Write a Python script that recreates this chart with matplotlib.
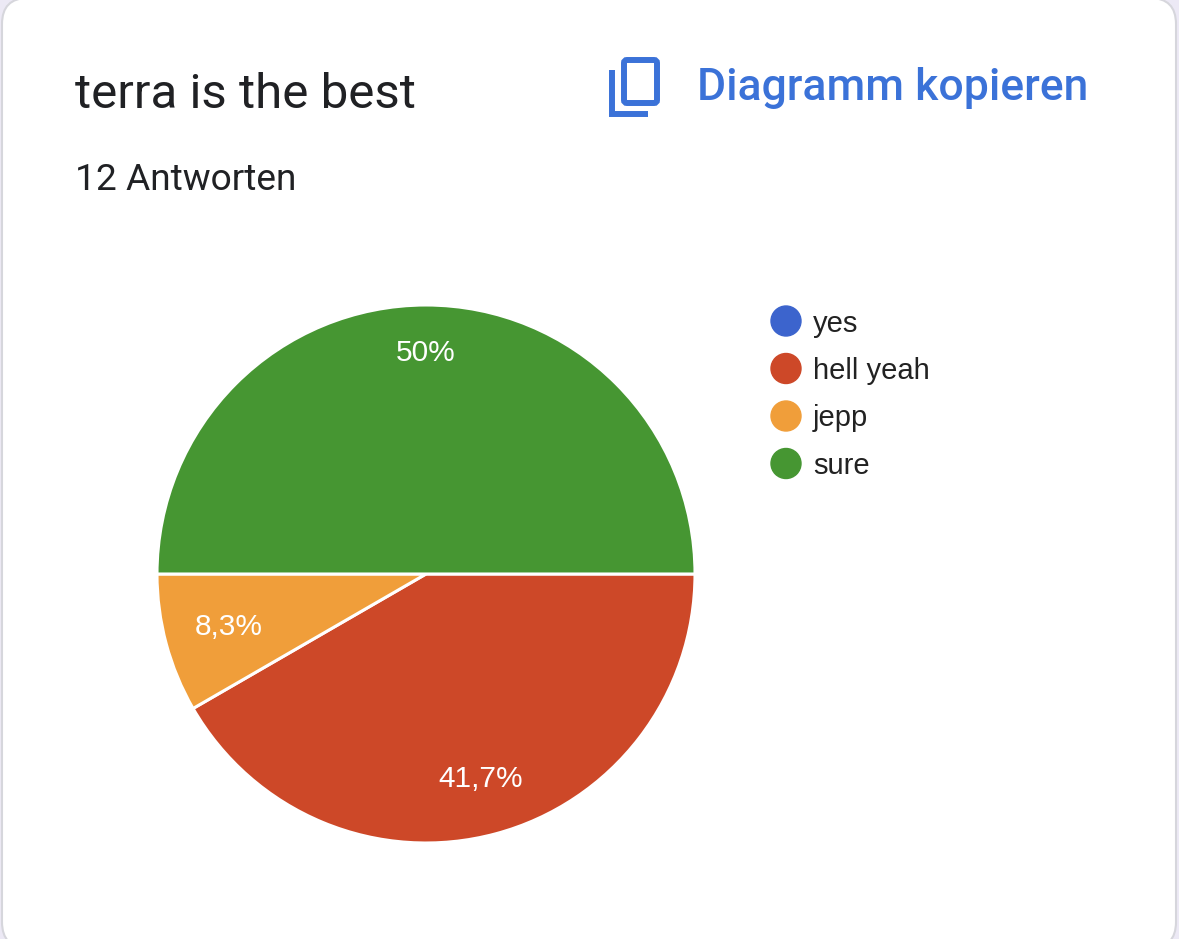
import numpy as np
import matplotlib.pyplot as plt
from matplotlib.patches import FancyBboxPatch, Circle

W, H = 1179, 939

# Daten aus dem Google-Formular
title = "terra is the best"
subtitle = "12 Antworten"
copy_label = "Diagramm kopieren"
labels = ["yes", "hell yeah", "jepp", "sure"]
counts = [0, 5, 1, 6]
colors = ["#3c64cd", "#cd4828", "#f09e3a", "#469632"]
blue = "#3b72d8"


def pct(p):
    # deutsches Format: Komma, ohne ",0"
    if p < 0.05:
        return ""
    s = f"{p:.1f}".replace(".", ",")
    if s.endswith(",0"):
        s = s[:-2]
    return s + "%"


fig = plt.figure(figsize=(W / 100, H / 100), dpi=100)
fig.patch.set_facecolor("#ece9f5")

# Hintergrund-Achse in Pixelkoordinaten
bg = fig.add_axes([0, 0, 1, 1])
bg.set_xlim(0, W)
bg.set_ylim(H, 0)
bg.axis("off")
bg.add_patch(FancyBboxPatch((2, -2), 1174, 950,
                            boxstyle="round,pad=0,rounding_size=26",
                            fc="white", ec="#d6d6dc", lw=1.5))

bg.text(75, 108, title, fontsize=35.5, family="Roboto", color="#202124", va="baseline")
bg.text(75, 190, subtitle, fontsize=26.7, family="Roboto", color="#202124", va="baseline")
bg.text(697, 100, copy_label, fontsize=32, family="Roboto", fontweight="medium",
        color=blue, va="baseline")

# Kopieren-Icon
bg.add_patch(FancyBboxPatch((624, 60), 33, 43, boxstyle="round,pad=0,rounding_size=3",
                            fc="none", ec=blue, lw=4.3))
bg.plot([612, 612, 648], [70, 114, 114], color=blue, lw=4.3,
        solid_capstyle="butt", solid_joinstyle="miter")

# Legende
for i, (lab, col) in enumerate(zip(labels, colors)):
    y = 321 + 47.5 * i
    bg.add_patch(Circle((786, y), 15, color=col))
    bg.text(813, y + 10.5, lab, fontsize=21, family="Liberation Sans",
            color="#222222", va="baseline")

# Kreisdiagramm
cx, cy, r = 426, 574, 269
ax = fig.add_axes([(cx - r) / W, (H - cy - r) / H, 2 * r / W, 2 * r / H])
wedges, texts, autotexts = ax.pie(
    counts, colors=colors, startangle=0, counterclock=False,
    autopct=pct, pctdistance=0.79,
    wedgeprops=dict(edgecolor="white", linewidth=2.2),
    textprops=dict(color="white", fontsize=21.5, family="Liberation Sans"))
for w in wedges:
    w.set_clip_on(False)

# Beschriftung je nach Segmentgröße etwas verschieben (wie bei Google)
label_dist = [0.79, 0.79, 0.76, 0.82]
for w, t, d in zip(wedges, autotexts, label_dist):
    mid = np.deg2rad((w.theta1 + w.theta2) / 2)
    t.set_position((d * np.cos(mid), d * np.sin(mid)))

ax.set_xlim(-1, 1)
ax.set_ylim(-1, 1)

fig.savefig("out.png", dpi=100)
